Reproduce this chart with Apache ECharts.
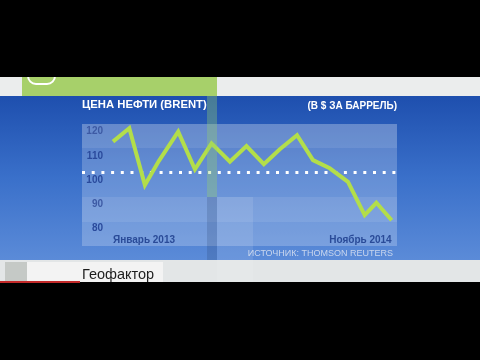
<!DOCTYPE html>
<html><head><meta charset="utf-8">
<script src="https://cdn.jsdelivr.net/npm/echarts@6/dist/echarts.min.js"></script>
<style>html,body{margin:0;padding:0;background:#000}#c{width:480px;height:360px}</style>
</head><body><div id="c"></div>
<script>
const chartTitle = 'ЦЕНА НЕФТИ (BRENT)';
const unitText = '(В $ ЗА БАРРЕЛЬ)';
const sourceText = 'ИСТОЧНИК: THOMSON REUTERS';
const programmeText = 'Геофактор';
const xLabels = ['Январь 2013', 'Ноябрь 2014'];
const xLabelPos = [0, 22];
const monthPos = [0, 1.29, 2.52, 3.63, 5.15, 6.47, 7.78, 9.23, 10.54, 11.91, 13.17, 14.53, 15.79, 17.11, 18.55, 19.87, 20.79, 22];
const price = [115.9, 121.4, 98.0, 108.0, 120.0, 104.5, 115.2, 107.6, 114.1, 106.6, 112.8, 118.6, 108.3, 104.9, 99.3, 85.6, 90.7, 83.5];
const yTicks = [80, 90, 100, 110, 120];
const averagePrice = 103.1;

const FONT = '"Liberation Sans", Arial, sans-serif';
const chart = echarts.init(document.getElementById('c'), null, {renderer: 'canvas'});
chart.setOption({
  animation: false,
  backgroundColor: '#000',
  title: [
    {text: chartTitle, left: 82, top: 99.5, padding: 0,
     textStyle: {color: '#ffffff', fontSize: 11.3, fontWeight: 'bold', fontFamily: FONT}},
    {text: unitText, right: 83, top: 101, padding: 0,
     textStyle: {color: '#ffffff', fontSize: 10, fontWeight: 'bold', fontFamily: FONT}},
    {text: sourceText, right: 87, top: 249, padding: 0,
     textStyle: {color: '#c9d6ee', fontSize: 9, fontWeight: 'normal', fontFamily: FONT}}
  ],
  grid: {left: 82, right: 83, top: 124, height: 122, show: true,
         backgroundColor: 'rgba(255,255,255,0.22)', borderWidth: 0},
  xAxis: {
    type: 'value', min: -2.444, max: 22.42,
    axisLine: {show: false}, axisTick: {show: false}, splitLine: {show: false},
    axisLabel: {customValues: xLabelPos, inside: true, margin: 1,
      formatter: v => xLabels[xLabelPos.indexOf(v)],
      alignMinLabel: 'left', alignMaxLabel: 'right',
      color: '#2a4b98', fontSize: 10, fontWeight: 'bold', fontFamily: FONT}
  },
  yAxis: {
    type: 'value', min: 72.87, max: 123.18,
    axisLine: {show: false}, axisTick: {show: false}, splitLine: {show: false},
    axisLabel: {customValues: yTicks, inside: true, margin: 21, align: 'right',
      color: '#2a4a9c', fontSize: 10, fontWeight: 'bold', fontFamily: FONT}
  },
  series: [{
    type: 'line',
    data: monthPos.map((m, i) => [m, price[i]]),
    showSymbol: false,
    lineStyle: {color: '#b3de4a', width: 4, join: 'miter'},
    z: 5,
    markLine: {silent: true, symbol: 'none', label: {show: false},
      lineStyle: {color: '#ffffff', width: 3, type: [3, 6.7], opacity: 1},
      data: [{yAxis: averagePrice}]},
    markArea: {silent: true, itemStyle: {color: 'rgba(255,255,255,0.09)'},
      data: [[{yAxis: 113.3}, {yAxis: 123.18}], [{yAxis: 82.8}, {yAxis: 93.1}]]}
  }],
  graphic: [
    {type: 'rect', z: -10, shape: {x: 0, y: 77, width: 480, height: 19}, style: {fill: '#ebeded'}},
    {type: 'rect', z: -10, shape: {x: 22, y: 77, width: 195, height: 19}, style: {fill: '#a7d06a'}},
    {type: 'rect', z: -9, shape: {x: 28, y: 66, width: 27, height: 18, r: 8}, style: {fill: 'none', stroke: '#ffffff', lineWidth: 2}},
    {type: 'rect', z: -10, shape: {x: 0, y: 96, width: 480, height: 164},
      style: {fill: new echarts.graphic.LinearGradient(0, 0, 0, 1, [
        {offset: 0, color: '#1e4fae'}, {offset: 0.5, color: '#3a70ca'}, {offset: 1, color: '#5b8bd8'}])}},
    {type: 'rect', z: -10, shape: {x: 0, y: 260, width: 480, height: 22}, style: {fill: '#e3e6e7'}},
    {type: 'rect', z: -9, shape: {x: 5, y: 262, width: 22, height: 20}, style: {fill: '#c5c9c6'}},
    {type: 'rect', z: -9, shape: {x: 27, y: 262, width: 136, height: 20}, style: {fill: '#f3f3f3'}},
    {type: 'text', z: 10, x: 82, y: 275, style: {text: programmeText, fill: '#1e1e1e', font: '14.5px ' + FONT, textVerticalAlign: 'middle'}},
    {type: 'rect', z: 10, shape: {x: 207, y: 96, width: 10, height: 101}, style: {fill: 'rgba(150,205,110,0.35)'}},
    {type: 'rect', z: 10, shape: {x: 207, y: 197, width: 10, height: 63}, style: {fill: 'rgba(30,50,90,0.18)'}},
    {type: 'rect', z: 10, shape: {x: 217, y: 197, width: 36, height: 85}, style: {fill: 'rgba(255,255,255,0.1)'}},
    {type: 'rect', z: 20, shape: {x: 0, y: 0, width: 480, height: 77}, style: {fill: '#000'}},
    {type: 'rect', z: 20, shape: {x: 0, y: 282, width: 480, height: 78}, style: {fill: '#000'}},
    {type: 'rect', z: 21, shape: {x: 0, y: 281, width: 80, height: 2}, style: {fill: '#c42a2a'}}
  ]
});
</script></body></html>
